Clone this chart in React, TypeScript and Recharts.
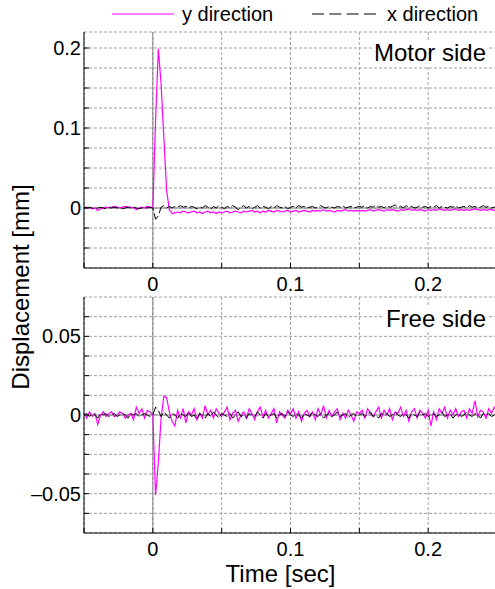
import { CartesianGrid, Line, LineChart, ReferenceLine, XAxis, YAxis } from "recharts";

// sampled at 500 Hz, t = -0.05 .. 0.25 s
const T0 = -0.05;
const DT = 0.002;

// Motor side, y direction [mm]
const Y_MOTOR = [
  0.000, 0.001, 0.000, -0.001, 0.000, -0.003, -0.001, 0.000, 0.001, 0.000, 0.001, 0.002, 0.001,
  0.000, 0.001, 0.002, 0.001, 0.001, 0.000, -0.002, 0.000, 0.001, 0.000, 0.002, 0.001,
  0.000, 0.110, 0.199, 0.155, 0.088, 0.022, -0.002, -0.007,
  -0.006, -0.005, -0.006, -0.004, -0.005, -0.006, -0.005, -0.004, -0.006, -0.005, -0.007, -0.005,
  -0.004, -0.006, -0.005, -0.007, -0.005, -0.006,
  -0.005, -0.004, -0.006, -0.005, -0.004, -0.005, -0.006, -0.004, -0.005, -0.004, -0.003, -0.005,
  -0.004, -0.006, -0.004, -0.005, -0.003, -0.004, -0.005, -0.003, -0.004, -0.005, -0.004, -0.003, -0.005,
  -0.004, -0.003, -0.005, -0.004, -0.003, -0.004, -0.005, -0.003, -0.004, -0.003, -0.004, -0.002,
  -0.004, -0.003, -0.004, -0.005, -0.003, -0.004, -0.003, -0.002, -0.004, -0.003, -0.004, -0.003, -0.004,
  -0.003, -0.004, -0.003, -0.002, -0.004, -0.003, -0.002, -0.003, -0.004, -0.002, -0.003, -0.002,
  -0.003, -0.004, -0.002, -0.003, -0.002, -0.001, -0.003, -0.002, -0.003, -0.002, -0.003, -0.004, -0.002,
  -0.003, -0.002, -0.003, -0.001, -0.002, -0.003, -0.002, -0.003, -0.002, -0.001, -0.003, -0.002,
  -0.003, -0.002, -0.003, -0.002, -0.001, -0.002, -0.003, -0.002, -0.003, -0.002, -0.002, -0.003, -0.002,
];

// Motor side, x direction [mm]
const X_MOTOR = [
  0.001, 0.000, 0.001, 0.000, -0.001, 0.000, 0.001, 0.000, -0.001, 0.001, 0.000, 0.001, 0.000,
  0.001, -0.001, 0.000, 0.001, 0.000, 0.001, 0.000, -0.001, 0.000, 0.001, 0.000, 0.001,
  0.000, -0.014, -0.010, 0.001, 0.003, 0.000, 0.002, 0.000,
  0.002, 0.001, 0.003, 0.001, 0.002, 0.000, 0.002, 0.001, -0.001, 0.002, 0.000, 0.003,
  0.001, -0.002, 0.002, 0.000, 0.003, 0.001,
  -0.001, 0.002, 0.000, 0.003, 0.001, -0.002, 0.001, 0.003, 0.000, 0.002, -0.001, 0.001,
  0.003, 0.000, 0.002, 0.001, -0.001, 0.002, 0.000, 0.003, 0.001, 0.000, 0.002, -0.001, 0.001,
  0.002, 0.000, 0.003, 0.001, 0.002, 0.000, 0.001, 0.002, 0.000, 0.001, 0.003, 0.001,
  0.000, 0.002, 0.001, 0.000, 0.002, 0.001, 0.003, 0.000, 0.001, 0.002, 0.000, 0.001, 0.002,
  0.001, 0.003, 0.000, 0.002, 0.001, 0.004, 0.001, 0.002, 0.000, 0.003, 0.001, 0.002,
  0.004, 0.001, 0.002, 0.000, 0.003, 0.001, 0.002, 0.000, 0.001, 0.003, 0.001, 0.002, 0.000,
  0.002, 0.001, 0.003, 0.000, 0.002, 0.001, 0.000, 0.002, 0.001, 0.003, 0.000, 0.001,
  0.002, 0.000, 0.003, 0.001, 0.002, 0.000, 0.001, 0.003, 0.001, 0.002, 0.000, 0.001, 0.002,
];

// Free side, y direction [mm]
const Y_FREE = [
  0.001, -0.002, 0.002, -0.001, 0.001, -0.006, 0.000, 0.002, -0.001, 0.001, 0.002, -0.001, 0.000,
  0.002, 0.001, -0.002, 0.000, 0.001, -0.003, 0.005, 0.001, 0.004, -0.002, 0.003, 0.002,
  0.000, -0.051, -0.030, -0.002, 0.012, 0.011, 0.002, -0.004, -0.007,
  0.003, -0.002, 0.004, -0.005, 0.002, 0.000, 0.004, -0.003, 0.001, -0.002, 0.006, 0.000,
  0.003, -0.002, 0.004, 0.001, -0.001,
  0.002, 0.005, -0.003, 0.001, 0.003, -0.004, 0.000, 0.002, -0.002, 0.004, 0.001, -0.003,
  0.002, 0.005, -0.001, 0.003, -0.002, 0.001, 0.004, -0.005, 0.002, 0.000, -0.002, 0.003, 0.001,
  0.004, -0.002, 0.002, -0.004, 0.001, 0.003, -0.001, 0.002, -0.003, 0.004, 0.000, 0.006,
  -0.002, 0.003, -0.001, 0.002, 0.004, -0.003, 0.001, -0.002, 0.003, 0.000, -0.004, 0.002, 0.001,
  0.003, -0.002, 0.004, 0.001, -0.001, 0.002, 0.005, -0.002, 0.003, 0.000, 0.004, -0.003,
  0.002, 0.001, 0.005, -0.001, 0.003, -0.004, 0.002, 0.004, -0.002, 0.003, 0.001, -0.002, 0.003,
  -0.007, 0.002, -0.003, 0.004, 0.001, 0.005, -0.002, 0.003, 0.000, 0.004, -0.001, 0.002,
  0.003, -0.002, 0.004, 0.001, 0.009, -0.001, 0.003, 0.002, -0.002, 0.004, 0.001, 0.005, 0.002,
];

// Free side, x direction [mm]
const X_FREE = [
  0.000, 0.001, -0.001, 0.001, 0.000, -0.002, 0.001, 0.000, 0.001, -0.001, 0.000, 0.001, -0.001,
  0.000, 0.001, 0.000, -0.002, 0.001, 0.000, 0.001, -0.001, 0.000, 0.001, 0.000, -0.001,
  0.000, 0.005, 0.003, -0.001, 0.002, 0.000, -0.002, 0.001,
  0.000, -0.002, 0.001, 0.000, -0.001, 0.002, -0.001, 0.000, -0.003, 0.001, 0.000, -0.002,
  0.001, -0.001, 0.002, 0.000, -0.002, 0.001,
  0.000, -0.001, 0.001, -0.002, 0.000, 0.002, -0.001, 0.000, -0.002, 0.001, 0.000, -0.001,
  0.002, 0.000, -0.002, 0.001, -0.001, 0.000, 0.001, -0.002, 0.000, 0.001, -0.001, 0.002, 0.000,
  -0.001, 0.001, 0.000, -0.002, 0.001, 0.000, -0.001, 0.002, 0.000, -0.001, 0.001, -0.002,
  0.000, 0.001, -0.001, 0.000, 0.002, -0.001, 0.000, 0.001, -0.002, 0.000, 0.001, -0.001, 0.000,
  0.001, -0.001, 0.000, 0.002, -0.001, 0.000, -0.002, 0.001, 0.000, 0.001, -0.001, 0.000,
  0.002, 0.000, -0.001, 0.001, 0.000, -0.002, 0.001, 0.000, -0.001, 0.002, 0.000, 0.001, -0.001,
  0.000, 0.001, -0.001, 0.000, 0.002, -0.001, 0.000, 0.001, -0.002, 0.000, 0.001, -0.001,
  0.000, 0.002, 0.000, -0.001, 0.001, 0.000, -0.002, 0.001, 0.000, 0.001, -0.001, 0.000, 0.001,
];

const X_DOMAIN = [-0.05, 0.25];
const X_TICKS = [-0.05, 0, 0.05, 0.1, 0.15, 0.2, 0.25];
const X_LABELS = ["", "0", "", "0.1", "", "0.2", ""];

const MOTOR_DOMAIN = [-0.075, 0.22];
const MOTOR_TICKS = [-0.05, -0.025, 0, 0.025, 0.05, 0.075, 0.1, 0.125, 0.15, 0.175, 0.2];
const MOTOR_LABELS = ["", "", "0", "", "", "", "0.1", "", "", "", "0.2"];

const FREE_DOMAIN = [-0.075, 0.075];
const FREE_TICKS = [-0.0625, -0.05, -0.0375, -0.025, -0.0125, 0, 0.0125, 0.025, 0.0375, 0.05, 0.0625];
const FREE_LABELS = ["", "\u20130.05", "", "", "", "0", "", "", "", "0.05", ""];

const MAGENTA = "#ff00ff";
const FONT = '"Liberation Sans", Arial, Helvetica, sans-serif';

const toRows = (ys: number[], xs: number[]) =>
  ys.map((y, i) => ({ t: T0 + i * DT, y, x: xs[i] }));

const labelFor = (ticks: number[], labels: string[]) => (v: number) => {
  const i = ticks.findIndex((t) => Math.abs(t - v) < 1e-9);
  return i >= 0 ? labels[i] : "";
};

function Panel({
  rows,
  yDomain,
  yTicks,
  yLabels,
  top,
}: {
  rows: { t: number; y: number; x: number }[];
  yDomain: number[];
  yTicks: number[];
  yLabels: string[];
  top: number;
}) {
  return (
    <div style={{ position: "absolute", left: 0, top }}>
      <LineChart width={500} height={300} data={rows} margin={{ top: 32, right: 3, bottom: 0, left: 24 }}>
        <CartesianGrid stroke="#a0a0a0" strokeDasharray="3 2" />
        <ReferenceLine x={0} stroke="#808080" />
        <ReferenceLine y={0} stroke="#808080" />
        <Line
          dataKey="y"
          type="linear"
          stroke={MAGENTA}
          strokeWidth={1.2}
          dot={false}
          isAnimationActive={false}
        />
        <Line
          dataKey="x"
          type="linear"
          stroke="#000"
          strokeWidth={1}
          strokeDasharray="10 3"
          dot={false}
          isAnimationActive={false}
        />
        <XAxis
          dataKey="t"
          type="number"
          domain={X_DOMAIN}
          ticks={X_TICKS}
          interval={0}
          allowDataOverflow
          height={32}
          tickSize={-5}
          tickMargin={14}
          stroke="#000"
          tick={{ fill: "#000", fontSize: 20 }}
          tickFormatter={labelFor(X_TICKS, X_LABELS)}
        />
        <XAxis
          xAxisId="top"
          orientation="top"
          dataKey="t"
          type="number"
          domain={X_DOMAIN}
          ticks={X_TICKS}
          interval={0}
          allowDataOverflow
          height={0}
          tickSize={-5}
          stroke="#000"
          tick={false}
        />
        <YAxis
          type="number"
          domain={yDomain}
          ticks={yTicks}
          interval={0}
          allowDataOverflow
          width={60}
          tickSize={-5}
          tickMargin={8}
          stroke="#000"
          tick={{ fill: "#000", fontSize: 20 }}
          tickFormatter={labelFor(yTicks, yLabels)}
        />
        <YAxis
          yAxisId="r"
          orientation="right"
          type="number"
          domain={yDomain}
          ticks={yTicks}
          interval={0}
          allowDataOverflow
          width={0}
          tickSize={-5}
          stroke="#000"
          tick={false}
        />
      </LineChart>
    </div>
  );
}

const boxLabel = {
  position: "absolute" as const,
  right: 7,
  fontSize: 24,
  lineHeight: "26px",
  padding: "0 2px",
  background: "#fff",
  color: "#000",
  whiteSpace: "nowrap" as const,
};

export default function App() {
  return (
    <div
      style={{
        position: "absolute",
        left: 0,
        top: 0,
        width: 495,
        height: 589,
        overflow: "hidden",
        background: "#fff",
        fontFamily: FONT,
      }}
    >
      <Panel rows={toRows(Y_MOTOR, X_MOTOR)} yDomain={MOTOR_DOMAIN} yTicks={MOTOR_TICKS} yLabels={MOTOR_LABELS} top={0} />
      <Panel rows={toRows(Y_FREE, X_FREE)} yDomain={FREE_DOMAIN} yTicks={FREE_TICKS} yLabels={FREE_LABELS} top={265} />

      <svg style={{ position: "absolute", left: 0, top: 0 }} width={495} height={30}>
        <line x1={112} x2={174} y1={14} y2={14} stroke={MAGENTA} strokeWidth={1.2} />
        <text x={182} y={21} fontSize={20} fill="#000">y direction</text>
        <line x1={312} x2={376} y1={14} y2={14} stroke="#000" strokeDasharray="12 5.3" />
        <text x={387} y={21} fontSize={20} fill="#000">x direction</text>
      </svg>

      <div style={{ ...boxLabel, top: 40 }}>Motor side</div>
      <div style={{ ...boxLabel, top: 306 }}>Free side</div>

      <div
        style={{
          position: "absolute",
          left: 21,
          top: 287,
          transform: "translate(-50%, -50%) rotate(-90deg)",
          fontSize: 24,
          lineHeight: "24px",
          whiteSpace: "nowrap",
        }}
      >
        Displacement [mm]
      </div>
      <div
        style={{
          position: "absolute",
          left: 280.5,
          top: 564,
          transform: "translateX(-50%)",
          fontSize: 24,
          lineHeight: "20px",
          whiteSpace: "nowrap",
        }}
      >
        Time [sec]
      </div>
    </div>
  );
}
